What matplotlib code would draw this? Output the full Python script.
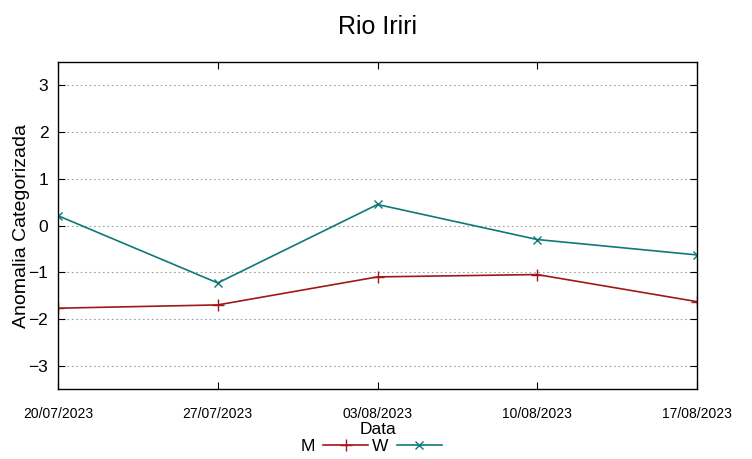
import matplotlib
matplotlib.use('Agg')
import matplotlib.pyplot as plt
import matplotlib.dates as mdates
import pandas as pd

# valores
datas = ['20/07/2023', '27/07/2023', '03/08/2023', '10/08/2023', '17/08/2023']
serie_m = [-1.77, -1.70, -1.10, -1.05, -1.63]
serie_w = [0.21, -1.23, 0.45, -0.30, -0.63]
yticks = [-3, -2, -1, 0, 1, 2, 3]

plt.rcParams['font.family'] = ['Liberation Sans', 'DejaVu Sans']

x = pd.to_datetime(datas, format='%d/%m/%Y')

fig = plt.figure(figsize=(7.52, 4.59), dpi=100)
ax = fig.add_axes([0.0771, 0.1525, 0.8498, 0.7124])

ax.plot(x, serie_m, color='#a01818', lw=1.2, marker='+', ms=8, mew=1.0, label='M')
ax.plot(x, serie_w, color='#107878', lw=1.2, marker='x', ms=6, mew=1.0, label='W')

ax.set_xlim(x[0], x[-1])
ax.set_ylim(-3.5, 3.5)
ax.set_xticks(x)
ax.xaxis.set_major_formatter(mdates.DateFormatter('%d/%m/%Y'))
ax.set_yticks(yticks)
ax.tick_params(axis='x', direction='in', top=True, length=5, pad=13, labelsize=10)
ax.tick_params(axis='y', direction='in', right=True, length=5, pad=7, labelsize=12.5)
ax.grid(axis='y', color='#a0a0a0', linestyle=(0, (1.5, 2.5)), lw=0.8)
for s in ax.spines.values():
    s.set_linewidth(1.0)

ax.set_title('Rio Iriri', fontsize=18, pad=20)
ax.set_ylabel('Anomalia Categorizada', fontsize=14, labelpad=-1)
ax.set_xlabel('Data', fontsize=12.5, labelpad=1)

ax.legend(loc='upper center', bbox_to_anchor=(0.49, -0.125), ncol=2, frameon=False,
          markerfirst=False, handlelength=2.6, columnspacing=0.2, handletextpad=0.5,
          fontsize=12.5, borderpad=0)

fig.savefig('out.png', dpi=100)
